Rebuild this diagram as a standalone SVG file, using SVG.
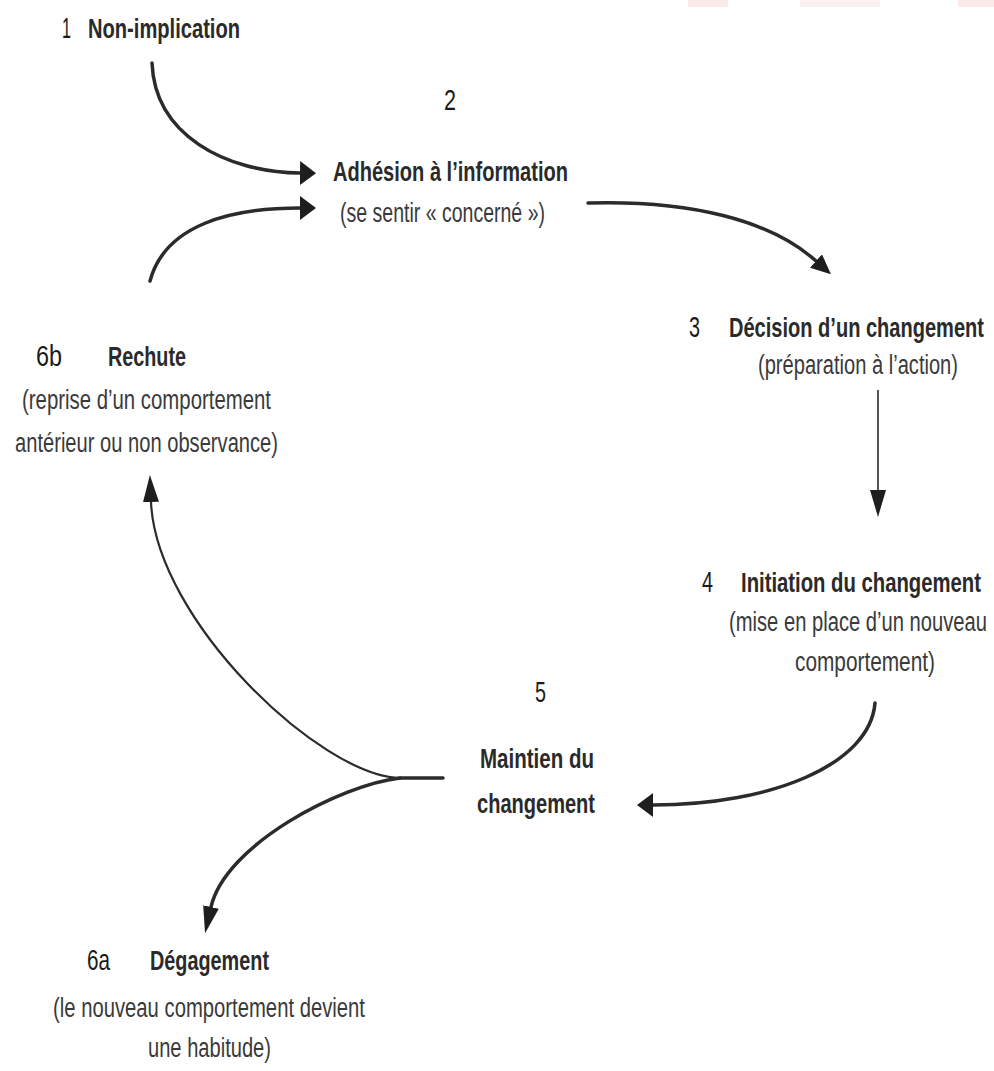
<svg xmlns="http://www.w3.org/2000/svg" width="994" height="1071" viewBox="0 0 994 1071">
<style>
  text { font-family: "Liberation Sans", Arial, sans-serif; fill: #2a2a2a; }
  .num { font-size: 29px; font-weight: normal; fill: #1a1a1a; }
  .title { font-size: 27px; font-weight: bold; }
  .sub { font-size: 27px; font-weight: normal; fill: #3a3a3a; }
  .end { text-anchor: end; }
  .thick { fill: none; stroke: #2b2b2b; stroke-width: 3.5; stroke-linecap: round; }
  .thin { fill: none; stroke: #2b2b2b; stroke-width: 2.2; stroke-linecap: round; }
  .hair { fill: none; stroke: #2b2b2b; stroke-width: 1.6; }
</style>
<defs>
  <marker id="headWide" markerUnits="userSpaceOnUse" viewBox="0 -12 16 24" markerWidth="16" markerHeight="24" refX="0" refY="0" orient="auto">
    <path d="M0,-12 L16,0 L0,12 z" fill="#1e1e1e"/>
  </marker>
  <marker id="headMid" markerUnits="userSpaceOnUse" viewBox="0 -9 20 18" markerWidth="20" markerHeight="18" refX="0" refY="0" orient="auto">
    <path d="M0,-9 L20,0 L0,9 z" fill="#1e1e1e"/>
  </marker>
  <marker id="headLong" markerUnits="userSpaceOnUse" viewBox="0 -8 27 16" markerWidth="27" markerHeight="16" refX="0" refY="0" orient="auto">
    <path d="M0,-8 L27,0 L0,8 z" fill="#1e1e1e"/>
  </marker>
</defs>

<g id="smudges" opacity="0.5">
  <rect x="688" y="0" width="40" height="7" fill="#f7d6d6"/>
  <rect x="800" y="0" width="80" height="7" fill="#f9e2e2"/>
  <rect x="958" y="0" width="36" height="7" fill="#f7d6d6"/>
</g>

<g id="connectors">
  <path class="thick" d="M152,63 C155,135 225,172 300,173" marker-end="url(#headWide)"/>
  <path class="thick" d="M150,281 C165,225 230,208 300,208" marker-end="url(#headWide)"/>
  <path class="thick" d="M588,203 C690,200 770,220 816,261" marker-end="url(#headMid)"/>
  <path class="hair" d="M878,390 L878,490" marker-end="url(#headLong)"/>
  <path class="thick" d="M875,703 C870,765 770,805 653,805" marker-end="url(#headWide)"/>
  <path class="thick" d="M443,778 L400,778"/>
  <path class="thin" d="M400,778 C320,776 156,620 151,502" marker-end="url(#headLong)"/>
  <path class="thick" d="M400,778 C340,785 225,845 211,907" marker-end="url(#headLong)"/>
</g>

<g id="node1">
  <text class="num" x="62" y="38" textLength="9" lengthAdjust="spacingAndGlyphs">1</text>
  <text class="title" x="88" y="38" textLength="152" lengthAdjust="spacingAndGlyphs">Non-implication</text>
</g>

<g id="node2">
  <text class="num" x="444" y="110" textLength="12" lengthAdjust="spacingAndGlyphs">2</text>
  <text class="title" x="333" y="181" textLength="235" lengthAdjust="spacingAndGlyphs">Adhésion à l’information</text>
  <text class="sub" x="340" y="222" textLength="205" lengthAdjust="spacingAndGlyphs">(se sentir « concerné »)</text>
</g>

<g id="node3">
  <text class="num" x="689" y="337" textLength="11" lengthAdjust="spacingAndGlyphs">3</text>
  <text class="title end" x="984" y="337" textLength="255" lengthAdjust="spacingAndGlyphs">Décision d’un changement</text>
  <text class="sub end" x="958" y="374" textLength="200" lengthAdjust="spacingAndGlyphs">(préparation à l’action)</text>
</g>

<g id="node4">
  <text class="num" x="702" y="592" textLength="11" lengthAdjust="spacingAndGlyphs">4</text>
  <text class="title end" x="981" y="592" textLength="240" lengthAdjust="spacingAndGlyphs">Initiation du changement</text>
  <text class="sub end" x="987" y="631" textLength="258" lengthAdjust="spacingAndGlyphs">(mise en place d’un nouveau</text>
  <text class="sub" x="795" y="671" textLength="140" lengthAdjust="spacingAndGlyphs">comportement)</text>
</g>

<g id="node5">
  <text class="num" x="535" y="702" textLength="11" lengthAdjust="spacingAndGlyphs">5</text>
  <text class="title" x="480" y="768" textLength="114" lengthAdjust="spacingAndGlyphs">Maintien du</text>
  <text class="title" x="477" y="813" textLength="118" lengthAdjust="spacingAndGlyphs">changement</text>
</g>

<g id="node6b">
  <text class="num" x="36" y="366" textLength="26" lengthAdjust="spacingAndGlyphs">6b</text>
  <text class="title" x="108" y="366" textLength="78" lengthAdjust="spacingAndGlyphs">Rechute</text>
  <text class="sub" x="22" y="409" textLength="249" lengthAdjust="spacingAndGlyphs">(reprise d’un comportement</text>
  <text class="sub" x="15" y="452" textLength="263" lengthAdjust="spacingAndGlyphs">antérieur ou non observance)</text>
</g>

<g id="node6a">
  <text class="num" x="87" y="970" textLength="23" lengthAdjust="spacingAndGlyphs">6a</text>
  <text class="title" x="150" y="970" textLength="119" lengthAdjust="spacingAndGlyphs">Dégagement</text>
  <text class="sub" x="53" y="1017" textLength="312" lengthAdjust="spacingAndGlyphs">(le nouveau comportement devient</text>
  <text class="sub" x="148" y="1057" textLength="123" lengthAdjust="spacingAndGlyphs">une habitude)</text>
</g>
</svg>
